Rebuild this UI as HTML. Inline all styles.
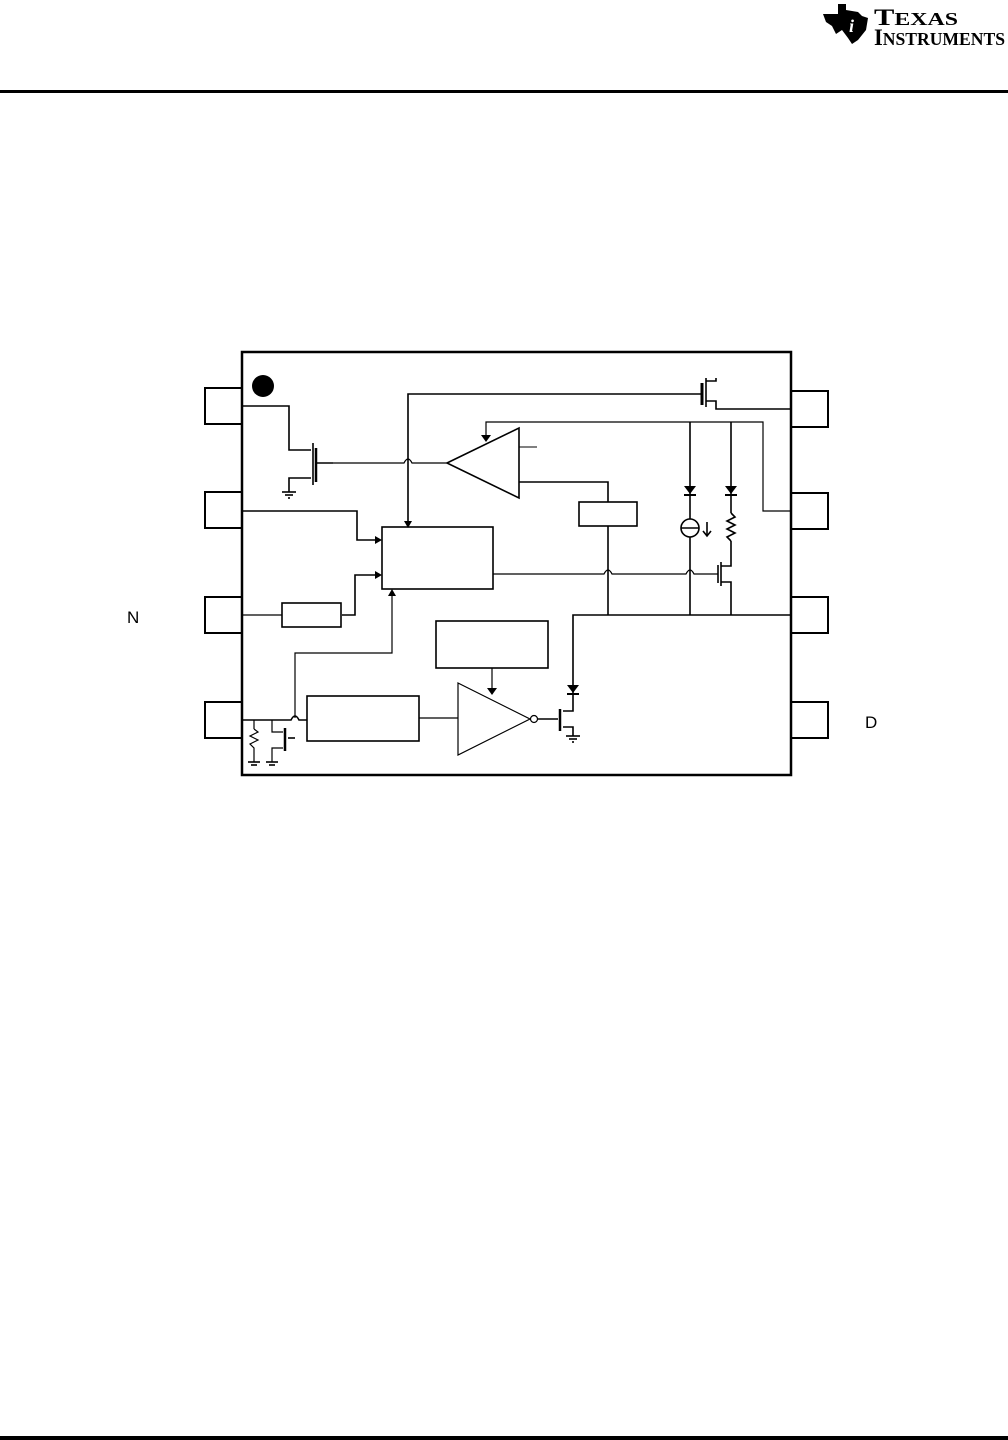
<!DOCTYPE html>
<html><head><meta charset="utf-8">
<style>
html,body{margin:0;padding:0;background:#fff;}
body{width:1008px;height:1440px;position:relative;overflow:hidden;font-family:"Liberation Sans",sans-serif;}
svg{position:absolute;left:0;top:0;}
</style></head><body>
<svg width="1008" height="1440" viewBox="0 0 1008 1440" xmlns="http://www.w3.org/2000/svg">
<rect x="0" y="90" width="1008" height="3" fill="#000"/>
<rect x="0" y="1436" width="1008" height="4" fill="#000"/>
<path d="M823,14 L838,14 L838,4 L846,4 L846,10 L858,12 L862,16 L868,18 L866,30 L858,40 L852,44 L848,38 L842,30 L836,34 L832,26 L826,22 Z" fill="#000"/>
<text x="849" y="32" font-family="Liberation Serif,serif" font-style="italic" font-weight="bold" font-size="18" fill="#fff">i</text>
<text x="874" y="25" font-family="Liberation Serif,serif" font-weight="bold" font-size="23" fill="#000" textLength="84" lengthAdjust="spacingAndGlyphs">T<tspan font-size="18">EXAS</tspan></text>
<text x="874" y="45" font-family="Liberation Serif,serif" font-weight="bold" font-size="23" fill="#000" textLength="131" lengthAdjust="spacingAndGlyphs">I<tspan font-size="18">NSTRUMENTS</tspan></text>

<text x="127" y="623" font-size="17" fill="#000">N</text>
<text x="865" y="728" font-size="17" fill="#000">D</text>

<g fill="none" stroke="#000" stroke-width="2">
<rect x="242" y="352" width="549" height="423" stroke-width="2.5"/>
<rect x="205" y="388" width="37" height="36"/>
<rect x="205" y="492" width="37" height="36"/>
<rect x="205" y="597" width="37" height="36"/>
<rect x="205" y="702" width="37" height="36"/>
<rect x="791" y="391" width="37" height="36"/>
<rect x="791" y="493" width="37" height="36"/>
<rect x="791" y="597" width="37" height="36"/>
<rect x="791" y="702" width="37" height="36"/>
</g>
<circle cx="263" cy="386" r="11" fill="#000"/>

<g fill="none" stroke="#000" stroke-width="1.6">
<polyline points="242,406 289,406 289,450 311,450"/>
<polyline points="311,478 289,478 289,492"/>
<line x1="313" y1="443" x2="313" y2="485"/>
<line x1="316" y1="448" x2="316" y2="482" stroke-width="2.5"/>
<line x1="316" y1="463" x2="333" y2="463"/>
<line x1="282" y1="492" x2="296" y2="492"/><line x1="285" y1="495" x2="293" y2="495"/><line x1="288" y1="498" x2="290" y2="498"/>
<path d="M333,463 L404,463 Q408,455 412,463 L447,463" stroke-width="1.2"/>
<polygon points="447,463 519,428 519,498"/>
<line x1="519" y1="447" x2="537" y2="447" stroke-width="1"/>
<polyline points="519,482 608,482 608,502"/>
<rect x="579" y="502" width="58" height="24"/>
<line x1="608" y1="526" x2="608" y2="615"/>
<polyline points="408,527 408,394 701,394"/>
<line x1="702" y1="383" x2="702" y2="405" stroke-width="3"/>
<line x1="706" y1="378" x2="706" y2="407"/>
<polyline points="706,381 716,381 716,378"/>
<polyline points="706,401 716,401 716,409 791,409"/>
<polyline points="486,440 486,422 763,422 763,511 791,511" stroke-width="1.2"/>
<line x1="690" y1="422" x2="690" y2="615"/>
<circle cx="690" cy="528" r="9" fill="#fff"/>
<line x1="681" y1="528" x2="699" y2="528"/>
<line x1="707" y1="522" x2="707" y2="535"/>
<polyline points="703,531 707,536 711,531"/>
<line x1="731" y1="422" x2="731" y2="513"/>
<polyline points="731,513 735,517 727,521 735,525 727,529 735,533 727,537 731,541"/>
<polyline points="731,541 731,566 721,566"/>
<polyline points="721,582 731,582 731,615"/>
<line x1="721" y1="562" x2="721" y2="586"/>
<line x1="718" y1="565" x2="718" y2="583"/>
<path d="M493,574 L604,574 Q608,566 612,574 L686,574 Q690,566 694,574 L718,574" stroke-width="1.2"/>
<polyline points="573,690 573,615 791,615"/>
<rect x="382" y="527" width="111" height="62"/>
<polyline points="242,511 357,511 357,540 378,540"/>
<polyline points="342,615 355,615 355,575 378,575"/>
<line x1="242" y1="615" x2="282" y2="615" stroke-width="1.2"/>
<rect x="282" y="603" width="59" height="24"/>
<polyline points="295,718 295,653 392,653 392,593" stroke-width="1.2"/>
<rect x="436" y="621" width="112" height="47"/>
<line x1="492" y1="668" x2="492" y2="692" stroke-width="1.2"/>
<polygon points="458,683 530,719 458,755" stroke-width="1.2"/>
<circle cx="534" cy="719" r="3.5" fill="#fff" stroke-width="1.2"/>
<line x1="538" y1="719" x2="558" y2="719"/>
<line x1="560" y1="709" x2="560" y2="731" stroke-width="2.5"/>
<polyline points="563,711 573,711 573,690"/>
<polyline points="563,727 573,727 573,736"/>
<line x1="566" y1="736" x2="580" y2="736"/><line x1="569" y1="739" x2="577" y2="739"/><line x1="572" y1="742" x2="574" y2="742"/>
<rect x="307" y="696" width="112" height="45"/>
<line x1="419" y1="718" x2="458" y2="718" stroke-width="1.2"/>
<path d="M242,720 L291,720 Q295,712 299,720 L307,720"/>
<line x1="254" y1="720" x2="254" y2="729" stroke-width="1.2"/>
<polyline points="254,729 258,732 250,736 258,740 250,744 254,748 254,762" stroke-width="1.2"/>
<line x1="248" y1="762" x2="260" y2="762"/><line x1="251" y1="765" x2="257" y2="765"/>
<polyline points="272,720 272,732 283,732" stroke-width="1.2"/>
<polyline points="283,748 272,748 272,762" stroke-width="1.2"/>
<line x1="285" y1="728" x2="285" y2="751" stroke-width="2.5"/>
<line x1="288" y1="738" x2="295" y2="738"/>
<line x1="266" y1="762" x2="278" y2="762"/><line x1="269" y1="765" x2="275" y2="765"/>
</g>
<g fill="#000">
<polygon points="404,521 412,521 408,528"/>
<polygon points="481,435 491,435 486,442"/>
<polygon points="375,536 382,540 375,544"/>
<polygon points="375,571 382,575 375,579"/>
<polygon points="388,596 396,596 392,589"/>
<polygon points="487,688 497,688 492,695"/>
<polygon points="684,486 696,486 690,494"/><rect x="684" y="494" width="12" height="2"/>
<polygon points="725,486 737,486 731,494"/><rect x="725" y="494" width="12" height="2"/>
<polygon points="567,685 579,685 573,693"/><rect x="567" y="693" width="12" height="2"/>
</g>
</svg>
</body></html>
